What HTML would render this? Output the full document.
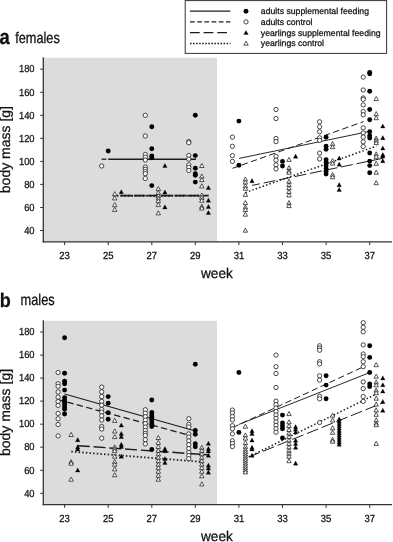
<!DOCTYPE html>
<html><head><meta charset="utf-8"><title>body mass</title>
<style>html,body{margin:0;padding:0;background:#fff}svg{display:block;will-change:transform}text{font-family:"Liberation Sans",sans-serif;stroke:#111;stroke-width:0.25px;text-rendering:geometricPrecision}</style>
</head><body>
<svg width="393" height="542" viewBox="0 0 393 542" font-family="Liberation Sans, sans-serif" fill="#111">
<rect width="393" height="542" fill="#fff"/>
<rect x="44" y="57.8" width="173" height="184.1" fill="#dcdcdc"/>
<line x1="101.6" y1="159.2" x2="106.4" y2="159.2" stroke="#1c1c1c" stroke-width="1.3" stroke-dasharray="6.4 3.3"/>
<line x1="108.2" y1="159.2" x2="196.0" y2="159.2" stroke="#1c1c1c" stroke-width="1.35" />
<line x1="120.4" y1="195.7" x2="208.7" y2="195.7" stroke="#1c1c1c" stroke-width="1.8" stroke-dasharray="11.6 1.9"/>
<line x1="113.3" y1="195.8" x2="202.4" y2="195.8" stroke="#1c1c1c" stroke-width="1.9" stroke-dasharray="1.5 2.15"/>
<line x1="239.1" y1="158.4" x2="369.9" y2="131.3" stroke="#1c1c1c" stroke-width="0.95" />
<line x1="232.6" y1="168.3" x2="363.6" y2="121.6" stroke="#1c1c1c" stroke-width="1.0" stroke-dasharray="6.4 3.3"/>
<line x1="252.1" y1="185.4" x2="383.2" y2="158.2" stroke="#1c1c1c" stroke-width="1.0" stroke-dasharray="12 3.8" stroke-dashoffset="4"/>
<line x1="245.4" y1="192.6" x2="376.4" y2="146.1" stroke="#1c1c1c" stroke-width="1.5" stroke-dasharray="1.5 2.15"/>
<circle cx="101.7" cy="166.0" r="2.15" fill="#fff" stroke="#1c1c1c" stroke-width="0.8"/>
<circle cx="108.2" cy="151.0" r="2.45" fill="#000"/>
<polygon points="112.5,195.7 116.9,195.7 114.7,191.6" fill="#fff" stroke="#1c1c1c" stroke-width="0.75"/>
<polygon points="112.5,199.9 116.9,199.9 114.7,195.8" fill="#fff" stroke="#1c1c1c" stroke-width="0.75"/>
<polygon points="112.5,206.7 116.9,206.7 114.7,202.6" fill="#fff" stroke="#1c1c1c" stroke-width="0.75"/>
<polygon points="112.5,211.4 116.9,211.4 114.7,207.3" fill="#fff" stroke="#1c1c1c" stroke-width="0.75"/>
<polygon points="119.1,193.8 123.5,193.8 121.3,189.7" fill="#000" stroke="#000" stroke-width="0.3"/>
<circle cx="145.3" cy="115.3" r="2.15" fill="#fff" stroke="#1c1c1c" stroke-width="0.8"/>
<circle cx="145.3" cy="136.0" r="2.15" fill="#fff" stroke="#1c1c1c" stroke-width="0.8"/>
<circle cx="145.3" cy="154.5" r="2.15" fill="#fff" stroke="#1c1c1c" stroke-width="0.8"/>
<circle cx="145.3" cy="157.2" r="2.15" fill="#fff" stroke="#1c1c1c" stroke-width="0.8"/>
<circle cx="145.3" cy="160.0" r="2.15" fill="#fff" stroke="#1c1c1c" stroke-width="0.8"/>
<circle cx="145.3" cy="167.1" r="2.15" fill="#fff" stroke="#1c1c1c" stroke-width="0.8"/>
<circle cx="145.3" cy="169.4" r="2.15" fill="#fff" stroke="#1c1c1c" stroke-width="0.8"/>
<circle cx="145.3" cy="171.7" r="2.15" fill="#fff" stroke="#1c1c1c" stroke-width="0.8"/>
<circle cx="145.3" cy="173.7" r="2.15" fill="#fff" stroke="#1c1c1c" stroke-width="0.8"/>
<circle cx="145.3" cy="178.5" r="2.15" fill="#fff" stroke="#1c1c1c" stroke-width="0.8"/>
<circle cx="151.8" cy="126.8" r="2.45" fill="#000"/>
<circle cx="151.8" cy="148.7" r="2.45" fill="#000"/>
<circle cx="151.8" cy="155.9" r="2.45" fill="#000"/>
<circle cx="151.8" cy="157.8" r="2.45" fill="#000"/>
<circle cx="151.8" cy="185.6" r="2.45" fill="#000"/>
<polygon points="156.1,190.7 160.5,190.7 158.3,186.6" fill="#fff" stroke="#1c1c1c" stroke-width="0.75"/>
<polygon points="156.1,194.5 160.5,194.5 158.3,190.4" fill="#fff" stroke="#1c1c1c" stroke-width="0.75"/>
<polygon points="156.1,197.7 160.5,197.7 158.3,193.6" fill="#fff" stroke="#1c1c1c" stroke-width="0.75"/>
<polygon points="156.1,200.1 160.5,200.1 158.3,196.0" fill="#fff" stroke="#1c1c1c" stroke-width="0.75"/>
<polygon points="156.1,202.8 160.5,202.8 158.3,198.7" fill="#fff" stroke="#1c1c1c" stroke-width="0.75"/>
<polygon points="156.1,206.6 160.5,206.6 158.3,202.5" fill="#fff" stroke="#1c1c1c" stroke-width="0.75"/>
<polygon points="156.1,214.9 160.5,214.9 158.3,210.8" fill="#fff" stroke="#1c1c1c" stroke-width="0.75"/>
<polygon points="162.7,167.5 167.1,167.5 164.9,163.4" fill="#000" stroke="#000" stroke-width="0.3"/>
<polygon points="162.7,194.1 167.1,194.1 164.9,190.0" fill="#000" stroke="#000" stroke-width="0.3"/>
<polygon points="162.7,208.9 167.1,208.9 164.9,204.8" fill="#000" stroke="#000" stroke-width="0.3"/>
<circle cx="188.8" cy="141.6" r="2.15" fill="#fff" stroke="#1c1c1c" stroke-width="0.8"/>
<circle cx="188.8" cy="142.7" r="2.15" fill="#fff" stroke="#1c1c1c" stroke-width="0.8"/>
<circle cx="188.8" cy="155.5" r="2.15" fill="#fff" stroke="#1c1c1c" stroke-width="0.8"/>
<circle cx="188.8" cy="159.1" r="2.15" fill="#fff" stroke="#1c1c1c" stroke-width="0.8"/>
<circle cx="188.8" cy="164.8" r="2.15" fill="#fff" stroke="#1c1c1c" stroke-width="0.8"/>
<circle cx="188.8" cy="167.4" r="2.15" fill="#fff" stroke="#1c1c1c" stroke-width="0.8"/>
<circle cx="188.8" cy="170.5" r="2.15" fill="#fff" stroke="#1c1c1c" stroke-width="0.8"/>
<circle cx="195.3" cy="115.3" r="2.45" fill="#000"/>
<circle cx="195.3" cy="155.6" r="2.45" fill="#000"/>
<circle cx="195.3" cy="168.3" r="2.45" fill="#000"/>
<circle cx="195.3" cy="173.7" r="2.45" fill="#000"/>
<circle cx="195.3" cy="175.2" r="2.45" fill="#000"/>
<circle cx="195.3" cy="182.1" r="2.45" fill="#000"/>
<polygon points="199.6,167.5 204.0,167.5 201.8,163.4" fill="#fff" stroke="#1c1c1c" stroke-width="0.75"/>
<polygon points="199.6,178.1 204.0,178.1 201.8,174.0" fill="#fff" stroke="#1c1c1c" stroke-width="0.75"/>
<polygon points="199.6,181.6 204.0,181.6 201.8,177.5" fill="#fff" stroke="#1c1c1c" stroke-width="0.75"/>
<polygon points="199.6,187.9 204.0,187.9 201.8,183.8" fill="#fff" stroke="#1c1c1c" stroke-width="0.75"/>
<polygon points="199.6,197.1 204.0,197.1 201.8,193.0" fill="#fff" stroke="#1c1c1c" stroke-width="0.75"/>
<polygon points="199.6,199.4 204.0,199.4 201.8,195.3" fill="#fff" stroke="#1c1c1c" stroke-width="0.75"/>
<polygon points="199.6,202.2 204.0,202.2 201.8,198.1" fill="#fff" stroke="#1c1c1c" stroke-width="0.75"/>
<polygon points="199.6,208.3 204.0,208.3 201.8,204.2" fill="#fff" stroke="#1c1c1c" stroke-width="0.75"/>
<polygon points="199.6,210.0 204.0,210.0 201.8,205.9" fill="#fff" stroke="#1c1c1c" stroke-width="0.75"/>
<polygon points="206.2,189.6 210.6,189.6 208.4,185.5" fill="#000" stroke="#000" stroke-width="0.3"/>
<polygon points="206.2,202.2 210.6,202.2 208.4,198.1" fill="#000" stroke="#000" stroke-width="0.3"/>
<polygon points="206.2,208.5 210.6,208.5 208.4,204.4" fill="#000" stroke="#000" stroke-width="0.3"/>
<polygon points="206.2,214.5 210.6,214.5 208.4,210.4" fill="#000" stroke="#000" stroke-width="0.3"/>
<circle cx="232.4" cy="137.1" r="2.15" fill="#fff" stroke="#1c1c1c" stroke-width="0.8"/>
<circle cx="232.4" cy="146.3" r="2.15" fill="#fff" stroke="#1c1c1c" stroke-width="0.8"/>
<circle cx="232.4" cy="155.6" r="2.15" fill="#fff" stroke="#1c1c1c" stroke-width="0.8"/>
<circle cx="232.4" cy="161.4" r="2.15" fill="#fff" stroke="#1c1c1c" stroke-width="0.8"/>
<circle cx="238.9" cy="121.1" r="2.45" fill="#000"/>
<circle cx="238.9" cy="165.3" r="2.45" fill="#000"/>
<polygon points="243.2,181.1 247.6,181.1 245.4,177.0" fill="#fff" stroke="#1c1c1c" stroke-width="0.75"/>
<polygon points="243.2,184.1 247.6,184.1 245.4,180.0" fill="#fff" stroke="#1c1c1c" stroke-width="0.75"/>
<polygon points="243.2,187.7 247.6,187.7 245.4,183.6" fill="#fff" stroke="#1c1c1c" stroke-width="0.75"/>
<polygon points="243.2,190.3 247.6,190.3 245.4,186.2" fill="#fff" stroke="#1c1c1c" stroke-width="0.75"/>
<polygon points="243.2,196.4 247.6,196.4 245.4,192.3" fill="#fff" stroke="#1c1c1c" stroke-width="0.75"/>
<polygon points="243.2,204.6 247.6,204.6 245.4,200.5" fill="#fff" stroke="#1c1c1c" stroke-width="0.75"/>
<polygon points="243.2,209.0 247.6,209.0 245.4,204.9" fill="#fff" stroke="#1c1c1c" stroke-width="0.75"/>
<polygon points="243.2,211.5 247.6,211.5 245.4,207.4" fill="#fff" stroke="#1c1c1c" stroke-width="0.75"/>
<polygon points="243.2,216.2 247.6,216.2 245.4,212.1" fill="#fff" stroke="#1c1c1c" stroke-width="0.75"/>
<polygon points="243.2,232.2 247.6,232.2 245.4,228.1" fill="#fff" stroke="#1c1c1c" stroke-width="0.75"/>
<polygon points="249.8,182.7 254.2,182.7 252.0,178.6" fill="#000" stroke="#000" stroke-width="0.3"/>
<circle cx="276.0" cy="109.5" r="2.15" fill="#fff" stroke="#1c1c1c" stroke-width="0.8"/>
<circle cx="276.0" cy="118.6" r="2.15" fill="#fff" stroke="#1c1c1c" stroke-width="0.8"/>
<circle cx="276.0" cy="138.5" r="2.15" fill="#fff" stroke="#1c1c1c" stroke-width="0.8"/>
<circle cx="276.0" cy="141.6" r="2.15" fill="#fff" stroke="#1c1c1c" stroke-width="0.8"/>
<circle cx="276.0" cy="156.4" r="2.15" fill="#fff" stroke="#1c1c1c" stroke-width="0.8"/>
<circle cx="276.0" cy="160.2" r="2.15" fill="#fff" stroke="#1c1c1c" stroke-width="0.8"/>
<circle cx="276.0" cy="164.8" r="2.15" fill="#fff" stroke="#1c1c1c" stroke-width="0.8"/>
<circle cx="276.0" cy="168.9" r="2.15" fill="#fff" stroke="#1c1c1c" stroke-width="0.8"/>
<circle cx="282.5" cy="161.4" r="2.45" fill="#000"/>
<circle cx="282.5" cy="166.0" r="2.45" fill="#000"/>
<polygon points="286.8,161.4 291.2,161.4 289.0,157.3" fill="#fff" stroke="#1c1c1c" stroke-width="0.75"/>
<polygon points="286.8,169.6 291.2,169.6 289.0,165.5" fill="#fff" stroke="#1c1c1c" stroke-width="0.75"/>
<polygon points="286.8,172.7 291.2,172.7 289.0,168.6" fill="#fff" stroke="#1c1c1c" stroke-width="0.75"/>
<polygon points="286.8,174.2 291.2,174.2 289.0,170.1" fill="#fff" stroke="#1c1c1c" stroke-width="0.75"/>
<polygon points="286.8,183.3 291.2,183.3 289.0,179.2" fill="#fff" stroke="#1c1c1c" stroke-width="0.75"/>
<polygon points="286.8,186.7 291.2,186.7 289.0,182.6" fill="#fff" stroke="#1c1c1c" stroke-width="0.75"/>
<polygon points="286.8,189.9 291.2,189.9 289.0,185.8" fill="#fff" stroke="#1c1c1c" stroke-width="0.75"/>
<polygon points="286.8,193.5 291.2,193.5 289.0,189.4" fill="#fff" stroke="#1c1c1c" stroke-width="0.75"/>
<polygon points="286.8,197.0 291.2,197.0 289.0,192.9" fill="#fff" stroke="#1c1c1c" stroke-width="0.75"/>
<polygon points="286.8,204.6 291.2,204.6 289.0,200.5" fill="#fff" stroke="#1c1c1c" stroke-width="0.75"/>
<polygon points="286.8,207.6 291.2,207.6 289.0,203.5" fill="#fff" stroke="#1c1c1c" stroke-width="0.75"/>
<polygon points="293.4,158.2 297.8,158.2 295.6,154.1" fill="#000" stroke="#000" stroke-width="0.3"/>
<circle cx="319.6" cy="121.8" r="2.15" fill="#fff" stroke="#1c1c1c" stroke-width="0.8"/>
<circle cx="319.6" cy="126.8" r="2.15" fill="#fff" stroke="#1c1c1c" stroke-width="0.8"/>
<circle cx="319.6" cy="131.7" r="2.15" fill="#fff" stroke="#1c1c1c" stroke-width="0.8"/>
<circle cx="319.6" cy="137.8" r="2.15" fill="#fff" stroke="#1c1c1c" stroke-width="0.8"/>
<circle cx="319.6" cy="140.4" r="2.15" fill="#fff" stroke="#1c1c1c" stroke-width="0.8"/>
<circle cx="319.6" cy="153.2" r="2.15" fill="#fff" stroke="#1c1c1c" stroke-width="0.8"/>
<circle cx="319.6" cy="159.0" r="2.15" fill="#fff" stroke="#1c1c1c" stroke-width="0.8"/>
<circle cx="326.1" cy="137.2" r="2.45" fill="#000"/>
<circle cx="326.1" cy="146.2" r="2.45" fill="#000"/>
<circle cx="326.1" cy="149.3" r="2.45" fill="#000"/>
<circle cx="326.1" cy="159.8" r="2.45" fill="#000"/>
<circle cx="326.1" cy="162.5" r="2.45" fill="#000"/>
<circle cx="326.1" cy="165.5" r="2.45" fill="#000"/>
<circle cx="326.1" cy="168.5" r="2.45" fill="#000"/>
<circle cx="326.1" cy="171.3" r="2.45" fill="#000"/>
<circle cx="326.1" cy="174.1" r="2.45" fill="#000"/>
<polygon points="330.4,145.6 334.8,145.6 332.6,141.5" fill="#fff" stroke="#1c1c1c" stroke-width="0.75"/>
<polygon points="330.4,148.7 334.8,148.7 332.6,144.6" fill="#fff" stroke="#1c1c1c" stroke-width="0.75"/>
<polygon points="330.4,162.6 334.8,162.6 332.6,158.5" fill="#fff" stroke="#1c1c1c" stroke-width="0.75"/>
<polygon points="330.4,165.1 334.8,165.1 332.6,161.0" fill="#fff" stroke="#1c1c1c" stroke-width="0.75"/>
<polygon points="330.4,176.5 334.8,176.5 332.6,172.4" fill="#fff" stroke="#1c1c1c" stroke-width="0.75"/>
<polygon points="330.4,178.8 334.8,178.8 332.6,174.7" fill="#fff" stroke="#1c1c1c" stroke-width="0.75"/>
<polygon points="337.0,160.1 341.4,160.1 339.2,156.0" fill="#000" stroke="#000" stroke-width="0.3"/>
<polygon points="337.0,166.2 341.4,166.2 339.2,162.1" fill="#000" stroke="#000" stroke-width="0.3"/>
<polygon points="337.0,186.7 341.4,186.7 339.2,182.6" fill="#000" stroke="#000" stroke-width="0.3"/>
<polygon points="337.0,191.5 341.4,191.5 339.2,187.4" fill="#000" stroke="#000" stroke-width="0.3"/>
<circle cx="363.2" cy="77.1" r="2.15" fill="#fff" stroke="#1c1c1c" stroke-width="0.8"/>
<circle cx="363.2" cy="90.0" r="2.15" fill="#fff" stroke="#1c1c1c" stroke-width="0.8"/>
<circle cx="363.2" cy="98.0" r="2.15" fill="#fff" stroke="#1c1c1c" stroke-width="0.8"/>
<circle cx="363.2" cy="99.4" r="2.15" fill="#fff" stroke="#1c1c1c" stroke-width="0.8"/>
<circle cx="363.2" cy="104.9" r="2.15" fill="#fff" stroke="#1c1c1c" stroke-width="0.8"/>
<circle cx="363.2" cy="111.5" r="2.15" fill="#fff" stroke="#1c1c1c" stroke-width="0.8"/>
<circle cx="363.2" cy="114.8" r="2.15" fill="#fff" stroke="#1c1c1c" stroke-width="0.8"/>
<circle cx="363.2" cy="127.9" r="2.15" fill="#fff" stroke="#1c1c1c" stroke-width="0.8"/>
<circle cx="363.2" cy="133.0" r="2.15" fill="#fff" stroke="#1c1c1c" stroke-width="0.8"/>
<circle cx="363.2" cy="137.1" r="2.15" fill="#fff" stroke="#1c1c1c" stroke-width="0.8"/>
<circle cx="363.2" cy="141.8" r="2.15" fill="#fff" stroke="#1c1c1c" stroke-width="0.8"/>
<circle cx="363.2" cy="146.5" r="2.15" fill="#fff" stroke="#1c1c1c" stroke-width="0.8"/>
<circle cx="369.7" cy="72.4" r="2.45" fill="#000"/>
<circle cx="369.7" cy="73.8" r="2.45" fill="#000"/>
<circle cx="369.7" cy="91.3" r="2.45" fill="#000"/>
<circle cx="369.7" cy="109.5" r="2.45" fill="#000"/>
<circle cx="369.7" cy="119.8" r="2.45" fill="#000"/>
<circle cx="369.7" cy="131.7" r="2.45" fill="#000"/>
<circle cx="369.7" cy="135.7" r="2.45" fill="#000"/>
<circle cx="369.7" cy="138.0" r="2.45" fill="#000"/>
<circle cx="369.7" cy="153.0" r="2.45" fill="#000"/>
<circle cx="369.7" cy="161.1" r="2.45" fill="#000"/>
<circle cx="369.7" cy="165.6" r="2.45" fill="#000"/>
<circle cx="369.7" cy="172.8" r="2.45" fill="#000"/>
<polygon points="374.0,100.6 378.4,100.6 376.2,96.5" fill="#fff" stroke="#1c1c1c" stroke-width="0.75"/>
<polygon points="374.0,115.7 378.4,115.7 376.2,111.6" fill="#fff" stroke="#1c1c1c" stroke-width="0.75"/>
<polygon points="374.0,119.7 378.4,119.7 376.2,115.6" fill="#fff" stroke="#1c1c1c" stroke-width="0.75"/>
<polygon points="374.0,140.1 378.4,140.1 376.2,136.0" fill="#fff" stroke="#1c1c1c" stroke-width="0.75"/>
<polygon points="374.0,142.3 378.4,142.3 376.2,138.2" fill="#fff" stroke="#1c1c1c" stroke-width="0.75"/>
<polygon points="374.0,144.6 378.4,144.6 376.2,140.5" fill="#fff" stroke="#1c1c1c" stroke-width="0.75"/>
<polygon points="374.0,155.9 378.4,155.9 376.2,151.8" fill="#fff" stroke="#1c1c1c" stroke-width="0.75"/>
<polygon points="374.0,158.3 378.4,158.3 376.2,154.2" fill="#fff" stroke="#1c1c1c" stroke-width="0.75"/>
<polygon points="374.0,165.3 378.4,165.3 376.2,161.2" fill="#fff" stroke="#1c1c1c" stroke-width="0.75"/>
<polygon points="374.0,174.2 378.4,174.2 376.2,170.1" fill="#fff" stroke="#1c1c1c" stroke-width="0.75"/>
<polygon points="374.0,184.7 378.4,184.7 376.2,180.6" fill="#fff" stroke="#1c1c1c" stroke-width="0.75"/>
<polygon points="380.6,128.0 385.0,128.0 382.8,123.9" fill="#000" stroke="#000" stroke-width="0.3"/>
<polygon points="380.6,139.7 385.0,139.7 382.8,135.6" fill="#000" stroke="#000" stroke-width="0.3"/>
<polygon points="380.6,150.0 385.0,150.0 382.8,145.9" fill="#000" stroke="#000" stroke-width="0.3"/>
<polygon points="380.6,156.6 385.0,156.6 382.8,152.5" fill="#000" stroke="#000" stroke-width="0.3"/>
<polygon points="380.6,157.9 385.0,157.9 382.8,153.8" fill="#000" stroke="#000" stroke-width="0.3"/>
<polygon points="380.6,162.7 385.0,162.7 382.8,158.6" fill="#000" stroke="#000" stroke-width="0.3"/>
<line x1="43.3" y1="57.3" x2="43.3" y2="242.5" stroke="#333" stroke-width="1.3"/>
<line x1="42.7" y1="241.9" x2="392" y2="241.9" stroke="#333" stroke-width="1.3"/>
<line x1="40.2" y1="230.5" x2="43.3" y2="230.5" stroke="#333" stroke-width="1"/>
<text transform="translate(34.6 233.7) scale(0.94 1.02)" text-anchor="end" font-size="10">40</text>
<line x1="40.2" y1="207.5" x2="43.3" y2="207.5" stroke="#333" stroke-width="1"/>
<text transform="translate(34.6 210.7) scale(0.94 1.02)" text-anchor="end" font-size="10">60</text>
<line x1="40.2" y1="184.4" x2="43.3" y2="184.4" stroke="#333" stroke-width="1"/>
<text transform="translate(34.6 187.6) scale(0.94 1.02)" text-anchor="end" font-size="10">80</text>
<line x1="40.2" y1="161.4" x2="43.3" y2="161.4" stroke="#333" stroke-width="1"/>
<text transform="translate(34.6 164.6) scale(0.94 1.02)" text-anchor="end" font-size="10">100</text>
<line x1="40.2" y1="138.3" x2="43.3" y2="138.3" stroke="#333" stroke-width="1"/>
<text transform="translate(34.6 141.5) scale(0.94 1.02)" text-anchor="end" font-size="10">120</text>
<line x1="40.2" y1="115.3" x2="43.3" y2="115.3" stroke="#333" stroke-width="1"/>
<text transform="translate(34.6 118.5) scale(0.94 1.02)" text-anchor="end" font-size="10">140</text>
<line x1="40.2" y1="92.3" x2="43.3" y2="92.3" stroke="#333" stroke-width="1"/>
<text transform="translate(34.6 95.5) scale(0.94 1.02)" text-anchor="end" font-size="10">160</text>
<line x1="40.2" y1="69.2" x2="43.3" y2="69.2" stroke="#333" stroke-width="1"/>
<text transform="translate(34.6 72.4) scale(0.94 1.02)" text-anchor="end" font-size="10">180</text>
<line x1="64.6" y1="241.9" x2="64.6" y2="245.1" stroke="#333" stroke-width="1"/>
<text transform="translate(64.6 258.9) scale(0.94 1.02)" text-anchor="middle" font-size="10.1">23</text>
<line x1="108.2" y1="241.9" x2="108.2" y2="245.1" stroke="#333" stroke-width="1"/>
<text transform="translate(108.2 258.9) scale(0.94 1.02)" text-anchor="middle" font-size="10.1">25</text>
<line x1="151.8" y1="241.9" x2="151.8" y2="245.1" stroke="#333" stroke-width="1"/>
<text transform="translate(151.8 258.9) scale(0.94 1.02)" text-anchor="middle" font-size="10.1">27</text>
<line x1="195.3" y1="241.9" x2="195.3" y2="245.1" stroke="#333" stroke-width="1"/>
<text transform="translate(195.3 258.9) scale(0.94 1.02)" text-anchor="middle" font-size="10.1">29</text>
<line x1="238.9" y1="241.9" x2="238.9" y2="245.1" stroke="#333" stroke-width="1"/>
<text transform="translate(238.9 258.9) scale(0.94 1.02)" text-anchor="middle" font-size="10.1">31</text>
<line x1="282.5" y1="241.9" x2="282.5" y2="245.1" stroke="#333" stroke-width="1"/>
<text transform="translate(282.5 258.9) scale(0.94 1.02)" text-anchor="middle" font-size="10.1">33</text>
<line x1="326.1" y1="241.9" x2="326.1" y2="245.1" stroke="#333" stroke-width="1"/>
<text transform="translate(326.1 258.9) scale(0.94 1.02)" text-anchor="middle" font-size="10.1">35</text>
<line x1="369.7" y1="241.9" x2="369.7" y2="245.1" stroke="#333" stroke-width="1"/>
<text transform="translate(369.7 258.9) scale(0.94 1.02)" text-anchor="middle" font-size="10.1">37</text>
<text transform="translate(216.9 277.8) scale(1.015 1.045)" text-anchor="middle" font-size="13.4" stroke-width="0.38">week</text>
<text transform="translate(10.4 149.6) rotate(-90)" text-anchor="middle" font-size="14" stroke-width="0.38">body mass [g]</text>
<rect x="44" y="320.8" width="173" height="183.8" fill="#dcdcdc"/>
<line x1="64.6" y1="394.0" x2="195.4" y2="431.0" stroke="#1c1c1c" stroke-width="1.15" />
<line x1="58.0" y1="399.6" x2="189.0" y2="435.2" stroke="#1c1c1c" stroke-width="1.25" stroke-dasharray="6.4 3.3"/>
<line x1="77.8" y1="445.7" x2="208.8" y2="454.9" stroke="#1c1c1c" stroke-width="1.45" stroke-dasharray="12 3.8"/>
<line x1="71.3" y1="451.6" x2="202.4" y2="461.9" stroke="#1c1c1c" stroke-width="1.75" stroke-dasharray="1.5 2.15"/>
<line x1="239.0" y1="424.4" x2="369.9" y2="372.5" stroke="#1c1c1c" stroke-width="0.95" />
<line x1="232.6" y1="427.6" x2="363.6" y2="366.7" stroke="#1c1c1c" stroke-width="1.0" stroke-dasharray="6.4 3.3"/>
<line x1="252.1" y1="455.7" x2="383.2" y2="402.7" stroke="#1c1c1c" stroke-width="1.0" stroke-dasharray="12 3.8" stroke-dashoffset="4"/>
<line x1="245.4" y1="458.5" x2="376.4" y2="394.0" stroke="#1c1c1c" stroke-width="1.5" stroke-dasharray="1.5 2.15"/>
<circle cx="58.1" cy="372.5" r="2.15" fill="#fff" stroke="#1c1c1c" stroke-width="0.8"/>
<circle cx="58.1" cy="383.7" r="2.15" fill="#fff" stroke="#1c1c1c" stroke-width="0.8"/>
<circle cx="58.1" cy="386.3" r="2.15" fill="#fff" stroke="#1c1c1c" stroke-width="0.8"/>
<circle cx="58.1" cy="392.0" r="2.15" fill="#fff" stroke="#1c1c1c" stroke-width="0.8"/>
<circle cx="58.1" cy="397.1" r="2.15" fill="#fff" stroke="#1c1c1c" stroke-width="0.8"/>
<circle cx="58.1" cy="401.5" r="2.15" fill="#fff" stroke="#1c1c1c" stroke-width="0.8"/>
<circle cx="58.1" cy="405.4" r="2.15" fill="#fff" stroke="#1c1c1c" stroke-width="0.8"/>
<circle cx="58.1" cy="413.4" r="2.15" fill="#fff" stroke="#1c1c1c" stroke-width="0.8"/>
<circle cx="58.1" cy="418.8" r="2.15" fill="#fff" stroke="#1c1c1c" stroke-width="0.8"/>
<circle cx="58.1" cy="424.5" r="2.15" fill="#fff" stroke="#1c1c1c" stroke-width="0.8"/>
<circle cx="58.1" cy="435.9" r="2.15" fill="#fff" stroke="#1c1c1c" stroke-width="0.8"/>
<circle cx="64.6" cy="337.8" r="2.45" fill="#000"/>
<circle cx="64.6" cy="373.3" r="2.45" fill="#000"/>
<circle cx="64.6" cy="381.2" r="2.45" fill="#000"/>
<circle cx="64.6" cy="383.7" r="2.45" fill="#000"/>
<circle cx="64.6" cy="390.1" r="2.45" fill="#000"/>
<circle cx="64.6" cy="397.7" r="2.45" fill="#000"/>
<circle cx="64.6" cy="400.0" r="2.45" fill="#000"/>
<circle cx="64.6" cy="402.3" r="2.45" fill="#000"/>
<circle cx="64.6" cy="404.6" r="2.45" fill="#000"/>
<circle cx="64.6" cy="406.9" r="2.45" fill="#000"/>
<circle cx="64.6" cy="409.2" r="2.45" fill="#000"/>
<circle cx="64.6" cy="414.0" r="2.45" fill="#000"/>
<polygon points="68.9,436.5 73.3,436.5 71.1,432.4" fill="#fff" stroke="#1c1c1c" stroke-width="0.75"/>
<polygon points="68.9,463.7 73.3,463.7 71.1,459.6" fill="#fff" stroke="#1c1c1c" stroke-width="0.75"/>
<polygon points="68.9,465.2 73.3,465.2 71.1,461.1" fill="#fff" stroke="#1c1c1c" stroke-width="0.75"/>
<polygon points="68.9,481.2 73.3,481.2 71.1,477.1" fill="#fff" stroke="#1c1c1c" stroke-width="0.75"/>
<polygon points="75.5,441.7 79.9,441.7 77.7,437.6" fill="#000" stroke="#000" stroke-width="0.3"/>
<polygon points="75.5,448.9 79.9,448.9 77.7,444.8" fill="#000" stroke="#000" stroke-width="0.3"/>
<polygon points="75.5,451.0 79.9,451.0 77.7,446.9" fill="#000" stroke="#000" stroke-width="0.3"/>
<polygon points="75.5,472.0 79.9,472.0 77.7,467.9" fill="#000" stroke="#000" stroke-width="0.3"/>
<circle cx="101.7" cy="387.1" r="2.15" fill="#fff" stroke="#1c1c1c" stroke-width="0.8"/>
<circle cx="101.7" cy="391.8" r="2.15" fill="#fff" stroke="#1c1c1c" stroke-width="0.8"/>
<circle cx="101.7" cy="396.6" r="2.15" fill="#fff" stroke="#1c1c1c" stroke-width="0.8"/>
<circle cx="101.7" cy="401.4" r="2.15" fill="#fff" stroke="#1c1c1c" stroke-width="0.8"/>
<circle cx="101.7" cy="405.2" r="2.15" fill="#fff" stroke="#1c1c1c" stroke-width="0.8"/>
<circle cx="101.7" cy="409.5" r="2.15" fill="#fff" stroke="#1c1c1c" stroke-width="0.8"/>
<circle cx="101.7" cy="412.1" r="2.15" fill="#fff" stroke="#1c1c1c" stroke-width="0.8"/>
<circle cx="101.7" cy="415.9" r="2.15" fill="#fff" stroke="#1c1c1c" stroke-width="0.8"/>
<circle cx="101.7" cy="420.0" r="2.15" fill="#fff" stroke="#1c1c1c" stroke-width="0.8"/>
<circle cx="101.7" cy="426.5" r="2.15" fill="#fff" stroke="#1c1c1c" stroke-width="0.8"/>
<circle cx="101.7" cy="429.0" r="2.15" fill="#fff" stroke="#1c1c1c" stroke-width="0.8"/>
<circle cx="101.7" cy="438.2" r="2.15" fill="#fff" stroke="#1c1c1c" stroke-width="0.8"/>
<circle cx="108.2" cy="396.6" r="2.45" fill="#000"/>
<circle cx="108.2" cy="403.3" r="2.45" fill="#000"/>
<circle cx="108.2" cy="412.7" r="2.45" fill="#000"/>
<circle cx="108.2" cy="419.3" r="2.45" fill="#000"/>
<polygon points="112.5,422.4 116.9,422.4 114.7,418.3" fill="#fff" stroke="#1c1c1c" stroke-width="0.75"/>
<polygon points="112.5,433.0 116.9,433.0 114.7,428.9" fill="#fff" stroke="#1c1c1c" stroke-width="0.75"/>
<polygon points="112.5,438.6 116.9,438.6 114.7,434.5" fill="#fff" stroke="#1c1c1c" stroke-width="0.75"/>
<polygon points="112.5,448.9 116.9,448.9 114.7,444.8" fill="#fff" stroke="#1c1c1c" stroke-width="0.75"/>
<polygon points="112.5,450.7 116.9,450.7 114.7,446.6" fill="#fff" stroke="#1c1c1c" stroke-width="0.75"/>
<polygon points="112.5,452.7 116.9,452.7 114.7,448.6" fill="#fff" stroke="#1c1c1c" stroke-width="0.75"/>
<polygon points="112.5,458.2 116.9,458.2 114.7,454.1" fill="#fff" stroke="#1c1c1c" stroke-width="0.75"/>
<polygon points="112.5,463.5 116.9,463.5 114.7,459.4" fill="#fff" stroke="#1c1c1c" stroke-width="0.75"/>
<polygon points="112.5,466.2 116.9,466.2 114.7,462.1" fill="#fff" stroke="#1c1c1c" stroke-width="0.75"/>
<polygon points="112.5,470.9 116.9,470.9 114.7,466.8" fill="#fff" stroke="#1c1c1c" stroke-width="0.75"/>
<polygon points="112.5,476.8 116.9,476.8 114.7,472.7" fill="#fff" stroke="#1c1c1c" stroke-width="0.75"/>
<polygon points="119.1,427.0 123.5,427.0 121.3,422.9" fill="#000" stroke="#000" stroke-width="0.3"/>
<polygon points="119.1,435.5 123.5,435.5 121.3,431.4" fill="#000" stroke="#000" stroke-width="0.3"/>
<polygon points="119.1,438.6 123.5,438.6 121.3,434.5" fill="#000" stroke="#000" stroke-width="0.3"/>
<polygon points="119.1,446.3 123.5,446.3 121.3,442.2" fill="#000" stroke="#000" stroke-width="0.3"/>
<polygon points="119.1,448.4 123.5,448.4 121.3,444.3" fill="#000" stroke="#000" stroke-width="0.3"/>
<polygon points="119.1,458.2 123.5,458.2 121.3,454.1" fill="#000" stroke="#000" stroke-width="0.3"/>
<circle cx="145.3" cy="409.8" r="2.15" fill="#fff" stroke="#1c1c1c" stroke-width="0.8"/>
<circle cx="145.3" cy="413.2" r="2.15" fill="#fff" stroke="#1c1c1c" stroke-width="0.8"/>
<circle cx="145.3" cy="416.7" r="2.15" fill="#fff" stroke="#1c1c1c" stroke-width="0.8"/>
<circle cx="145.3" cy="420.1" r="2.15" fill="#fff" stroke="#1c1c1c" stroke-width="0.8"/>
<circle cx="145.3" cy="423.6" r="2.15" fill="#fff" stroke="#1c1c1c" stroke-width="0.8"/>
<circle cx="145.3" cy="427.1" r="2.15" fill="#fff" stroke="#1c1c1c" stroke-width="0.8"/>
<circle cx="145.3" cy="430.5" r="2.15" fill="#fff" stroke="#1c1c1c" stroke-width="0.8"/>
<circle cx="145.3" cy="433.4" r="2.15" fill="#fff" stroke="#1c1c1c" stroke-width="0.8"/>
<circle cx="145.3" cy="435.4" r="2.15" fill="#fff" stroke="#1c1c1c" stroke-width="0.8"/>
<circle cx="145.3" cy="439.7" r="2.15" fill="#fff" stroke="#1c1c1c" stroke-width="0.8"/>
<circle cx="145.3" cy="443.9" r="2.15" fill="#fff" stroke="#1c1c1c" stroke-width="0.8"/>
<circle cx="151.8" cy="400.0" r="2.45" fill="#000"/>
<circle cx="151.8" cy="412.4" r="2.45" fill="#000"/>
<circle cx="151.8" cy="415.0" r="2.45" fill="#000"/>
<circle cx="151.8" cy="417.3" r="2.45" fill="#000"/>
<circle cx="151.8" cy="419.6" r="2.45" fill="#000"/>
<circle cx="151.8" cy="421.9" r="2.45" fill="#000"/>
<circle cx="151.8" cy="424.2" r="2.45" fill="#000"/>
<circle cx="151.8" cy="426.5" r="2.45" fill="#000"/>
<circle cx="151.8" cy="449.5" r="2.45" fill="#000"/>
<polygon points="156.1,439.5 160.5,439.5 158.3,435.4" fill="#fff" stroke="#1c1c1c" stroke-width="0.75"/>
<polygon points="156.1,444.4 160.5,444.4 158.3,440.3" fill="#fff" stroke="#1c1c1c" stroke-width="0.75"/>
<polygon points="156.1,448.4 160.5,448.4 158.3,444.3" fill="#fff" stroke="#1c1c1c" stroke-width="0.75"/>
<polygon points="156.1,452.4 160.5,452.4 158.3,448.3" fill="#fff" stroke="#1c1c1c" stroke-width="0.75"/>
<polygon points="156.1,455.9 160.5,455.9 158.3,451.8" fill="#fff" stroke="#1c1c1c" stroke-width="0.75"/>
<polygon points="156.1,459.3 160.5,459.3 158.3,455.2" fill="#fff" stroke="#1c1c1c" stroke-width="0.75"/>
<polygon points="156.1,462.8 160.5,462.8 158.3,458.7" fill="#fff" stroke="#1c1c1c" stroke-width="0.75"/>
<polygon points="156.1,466.2 160.5,466.2 158.3,462.1" fill="#fff" stroke="#1c1c1c" stroke-width="0.75"/>
<polygon points="156.1,469.7 160.5,469.7 158.3,465.6" fill="#fff" stroke="#1c1c1c" stroke-width="0.75"/>
<polygon points="156.1,473.2 160.5,473.2 158.3,469.1" fill="#fff" stroke="#1c1c1c" stroke-width="0.75"/>
<polygon points="156.1,477.2 160.5,477.2 158.3,473.1" fill="#fff" stroke="#1c1c1c" stroke-width="0.75"/>
<polygon points="156.1,481.2 160.5,481.2 158.3,477.1" fill="#fff" stroke="#1c1c1c" stroke-width="0.75"/>
<polygon points="162.7,450.7 167.1,450.7 164.9,446.6" fill="#000" stroke="#000" stroke-width="0.3"/>
<polygon points="162.7,452.7 167.1,452.7 164.9,448.6" fill="#000" stroke="#000" stroke-width="0.3"/>
<polygon points="162.7,460.6 167.1,460.6 164.9,456.5" fill="#000" stroke="#000" stroke-width="0.3"/>
<polygon points="162.7,464.4 167.1,464.4 164.9,460.3" fill="#000" stroke="#000" stroke-width="0.3"/>
<circle cx="188.8" cy="418.7" r="2.15" fill="#fff" stroke="#1c1c1c" stroke-width="0.8"/>
<circle cx="188.8" cy="424.4" r="2.15" fill="#fff" stroke="#1c1c1c" stroke-width="0.8"/>
<circle cx="188.8" cy="426.9" r="2.15" fill="#fff" stroke="#1c1c1c" stroke-width="0.8"/>
<circle cx="188.8" cy="433.9" r="2.15" fill="#fff" stroke="#1c1c1c" stroke-width="0.8"/>
<circle cx="188.8" cy="437.1" r="2.15" fill="#fff" stroke="#1c1c1c" stroke-width="0.8"/>
<circle cx="188.8" cy="440.9" r="2.15" fill="#fff" stroke="#1c1c1c" stroke-width="0.8"/>
<circle cx="188.8" cy="444.7" r="2.15" fill="#fff" stroke="#1c1c1c" stroke-width="0.8"/>
<circle cx="188.8" cy="448.6" r="2.15" fill="#fff" stroke="#1c1c1c" stroke-width="0.8"/>
<circle cx="188.8" cy="452.4" r="2.15" fill="#fff" stroke="#1c1c1c" stroke-width="0.8"/>
<circle cx="188.8" cy="455.6" r="2.15" fill="#fff" stroke="#1c1c1c" stroke-width="0.8"/>
<circle cx="188.8" cy="458.7" r="2.15" fill="#fff" stroke="#1c1c1c" stroke-width="0.8"/>
<circle cx="195.3" cy="364.2" r="2.45" fill="#000"/>
<circle cx="195.3" cy="430.4" r="2.45" fill="#000"/>
<circle cx="195.3" cy="434.3" r="2.45" fill="#000"/>
<circle cx="195.3" cy="443.8" r="2.45" fill="#000"/>
<circle cx="195.3" cy="446.8" r="2.45" fill="#000"/>
<polygon points="199.6,449.4 204.0,449.4 201.8,445.3" fill="#fff" stroke="#1c1c1c" stroke-width="0.75"/>
<polygon points="199.6,452.4 204.0,452.4 201.8,448.3" fill="#fff" stroke="#1c1c1c" stroke-width="0.75"/>
<polygon points="199.6,455.9 204.0,455.9 201.8,451.8" fill="#fff" stroke="#1c1c1c" stroke-width="0.75"/>
<polygon points="199.6,459.3 204.0,459.3 201.8,455.2" fill="#fff" stroke="#1c1c1c" stroke-width="0.75"/>
<polygon points="199.6,462.8 204.0,462.8 201.8,458.7" fill="#fff" stroke="#1c1c1c" stroke-width="0.75"/>
<polygon points="199.6,466.2 204.0,466.2 201.8,462.1" fill="#fff" stroke="#1c1c1c" stroke-width="0.75"/>
<polygon points="199.6,469.7 204.0,469.7 201.8,465.6" fill="#fff" stroke="#1c1c1c" stroke-width="0.75"/>
<polygon points="199.6,473.2 204.0,473.2 201.8,469.1" fill="#fff" stroke="#1c1c1c" stroke-width="0.75"/>
<polygon points="199.6,477.8 204.0,477.8 201.8,473.7" fill="#fff" stroke="#1c1c1c" stroke-width="0.75"/>
<polygon points="199.6,485.9 204.0,485.9 201.8,481.8" fill="#fff" stroke="#1c1c1c" stroke-width="0.75"/>
<polygon points="206.2,445.3 210.6,445.3 208.4,441.2" fill="#000" stroke="#000" stroke-width="0.3"/>
<polygon points="206.2,450.6 210.6,450.6 208.4,446.5" fill="#000" stroke="#000" stroke-width="0.3"/>
<polygon points="206.2,452.9 210.6,452.9 208.4,448.8" fill="#000" stroke="#000" stroke-width="0.3"/>
<polygon points="206.2,457.3 210.6,457.3 208.4,453.2" fill="#000" stroke="#000" stroke-width="0.3"/>
<polygon points="206.2,467.2 210.6,467.2 208.4,463.1" fill="#000" stroke="#000" stroke-width="0.3"/>
<polygon points="206.2,470.1 210.6,470.1 208.4,466.0" fill="#000" stroke="#000" stroke-width="0.3"/>
<polygon points="206.2,474.2 210.6,474.2 208.4,470.1" fill="#000" stroke="#000" stroke-width="0.3"/>
<circle cx="232.4" cy="410.1" r="2.15" fill="#fff" stroke="#1c1c1c" stroke-width="0.8"/>
<circle cx="232.4" cy="412.9" r="2.15" fill="#fff" stroke="#1c1c1c" stroke-width="0.8"/>
<circle cx="232.4" cy="416.5" r="2.15" fill="#fff" stroke="#1c1c1c" stroke-width="0.8"/>
<circle cx="232.4" cy="419.9" r="2.15" fill="#fff" stroke="#1c1c1c" stroke-width="0.8"/>
<circle cx="232.4" cy="425.7" r="2.15" fill="#fff" stroke="#1c1c1c" stroke-width="0.8"/>
<circle cx="232.4" cy="428.8" r="2.15" fill="#fff" stroke="#1c1c1c" stroke-width="0.8"/>
<circle cx="232.4" cy="433.9" r="2.15" fill="#fff" stroke="#1c1c1c" stroke-width="0.8"/>
<circle cx="232.4" cy="440.8" r="2.15" fill="#fff" stroke="#1c1c1c" stroke-width="0.8"/>
<circle cx="232.4" cy="443.5" r="2.15" fill="#fff" stroke="#1c1c1c" stroke-width="0.8"/>
<circle cx="232.4" cy="446.6" r="2.15" fill="#fff" stroke="#1c1c1c" stroke-width="0.8"/>
<circle cx="238.9" cy="372.5" r="2.45" fill="#000"/>
<circle cx="238.9" cy="432.4" r="2.45" fill="#000"/>
<polygon points="243.2,428.2 247.6,428.2 245.4,424.1" fill="#fff" stroke="#1c1c1c" stroke-width="0.75"/>
<polygon points="243.2,437.0 247.6,437.0 245.4,432.9" fill="#fff" stroke="#1c1c1c" stroke-width="0.75"/>
<polygon points="243.2,440.1 247.6,440.1 245.4,436.0" fill="#fff" stroke="#1c1c1c" stroke-width="0.75"/>
<polygon points="243.2,444.6 247.6,444.6 245.4,440.5" fill="#fff" stroke="#1c1c1c" stroke-width="0.75"/>
<polygon points="243.2,448.4 247.6,448.4 245.4,444.3" fill="#fff" stroke="#1c1c1c" stroke-width="0.75"/>
<polygon points="243.2,451.3 247.6,451.3 245.4,447.2" fill="#fff" stroke="#1c1c1c" stroke-width="0.75"/>
<polygon points="243.2,453.6 247.6,453.6 245.4,449.5" fill="#fff" stroke="#1c1c1c" stroke-width="0.75"/>
<polygon points="243.2,455.9 247.6,455.9 245.4,451.8" fill="#fff" stroke="#1c1c1c" stroke-width="0.75"/>
<polygon points="243.2,458.2 247.6,458.2 245.4,454.1" fill="#fff" stroke="#1c1c1c" stroke-width="0.75"/>
<polygon points="243.2,460.5 247.6,460.5 245.4,456.4" fill="#fff" stroke="#1c1c1c" stroke-width="0.75"/>
<polygon points="243.2,462.8 247.6,462.8 245.4,458.7" fill="#fff" stroke="#1c1c1c" stroke-width="0.75"/>
<polygon points="243.2,465.1 247.6,465.1 245.4,461.0" fill="#fff" stroke="#1c1c1c" stroke-width="0.75"/>
<polygon points="243.2,467.4 247.6,467.4 245.4,463.3" fill="#fff" stroke="#1c1c1c" stroke-width="0.75"/>
<polygon points="243.2,469.7 247.6,469.7 245.4,465.6" fill="#fff" stroke="#1c1c1c" stroke-width="0.75"/>
<polygon points="243.2,472.0 247.6,472.0 245.4,467.9" fill="#fff" stroke="#1c1c1c" stroke-width="0.75"/>
<polygon points="243.2,473.9 247.6,473.9 245.4,469.8" fill="#fff" stroke="#1c1c1c" stroke-width="0.75"/>
<polygon points="249.8,432.8 254.2,432.8 252.0,428.7" fill="#000" stroke="#000" stroke-width="0.3"/>
<polygon points="249.8,435.5 254.2,435.5 252.0,431.4" fill="#000" stroke="#000" stroke-width="0.3"/>
<polygon points="249.8,442.1 254.2,442.1 252.0,438.0" fill="#000" stroke="#000" stroke-width="0.3"/>
<polygon points="249.8,449.3 254.2,449.3 252.0,445.2" fill="#000" stroke="#000" stroke-width="0.3"/>
<polygon points="249.8,450.9 254.2,450.9 252.0,446.8" fill="#000" stroke="#000" stroke-width="0.3"/>
<polygon points="249.8,457.3 254.2,457.3 252.0,453.2" fill="#000" stroke="#000" stroke-width="0.3"/>
<circle cx="276.0" cy="355.1" r="2.15" fill="#fff" stroke="#1c1c1c" stroke-width="0.8"/>
<circle cx="276.0" cy="366.7" r="2.15" fill="#fff" stroke="#1c1c1c" stroke-width="0.8"/>
<circle cx="276.0" cy="373.5" r="2.15" fill="#fff" stroke="#1c1c1c" stroke-width="0.8"/>
<circle cx="276.0" cy="387.5" r="2.15" fill="#fff" stroke="#1c1c1c" stroke-width="0.8"/>
<circle cx="276.0" cy="401.1" r="2.15" fill="#fff" stroke="#1c1c1c" stroke-width="0.8"/>
<circle cx="276.0" cy="404.6" r="2.15" fill="#fff" stroke="#1c1c1c" stroke-width="0.8"/>
<circle cx="276.0" cy="408.1" r="2.15" fill="#fff" stroke="#1c1c1c" stroke-width="0.8"/>
<circle cx="276.0" cy="411.5" r="2.15" fill="#fff" stroke="#1c1c1c" stroke-width="0.8"/>
<circle cx="276.0" cy="415.0" r="2.15" fill="#fff" stroke="#1c1c1c" stroke-width="0.8"/>
<circle cx="276.0" cy="418.4" r="2.15" fill="#fff" stroke="#1c1c1c" stroke-width="0.8"/>
<circle cx="276.0" cy="421.9" r="2.15" fill="#fff" stroke="#1c1c1c" stroke-width="0.8"/>
<circle cx="276.0" cy="425.3" r="2.15" fill="#fff" stroke="#1c1c1c" stroke-width="0.8"/>
<circle cx="276.0" cy="428.8" r="2.15" fill="#fff" stroke="#1c1c1c" stroke-width="0.8"/>
<circle cx="276.0" cy="432.2" r="2.15" fill="#fff" stroke="#1c1c1c" stroke-width="0.8"/>
<circle cx="282.5" cy="415.1" r="2.45" fill="#000"/>
<circle cx="282.5" cy="423.0" r="2.45" fill="#000"/>
<circle cx="282.5" cy="425.9" r="2.45" fill="#000"/>
<circle cx="282.5" cy="428.8" r="2.45" fill="#000"/>
<circle cx="282.5" cy="438.0" r="2.45" fill="#000"/>
<polygon points="286.8,415.6 291.2,415.6 289.0,411.5" fill="#fff" stroke="#1c1c1c" stroke-width="0.75"/>
<polygon points="286.8,423.9 291.2,423.9 289.0,419.8" fill="#fff" stroke="#1c1c1c" stroke-width="0.75"/>
<polygon points="286.8,427.7 291.2,427.7 289.0,423.6" fill="#fff" stroke="#1c1c1c" stroke-width="0.75"/>
<polygon points="286.8,431.5 291.2,431.5 289.0,427.4" fill="#fff" stroke="#1c1c1c" stroke-width="0.75"/>
<polygon points="286.8,435.1 291.2,435.1 289.0,431.0" fill="#fff" stroke="#1c1c1c" stroke-width="0.75"/>
<polygon points="286.8,438.6 291.2,438.6 289.0,434.5" fill="#fff" stroke="#1c1c1c" stroke-width="0.75"/>
<polygon points="286.8,442.1 291.2,442.1 289.0,438.0" fill="#fff" stroke="#1c1c1c" stroke-width="0.75"/>
<polygon points="286.8,445.5 291.2,445.5 289.0,441.4" fill="#fff" stroke="#1c1c1c" stroke-width="0.75"/>
<polygon points="286.8,449.0 291.2,449.0 289.0,444.9" fill="#fff" stroke="#1c1c1c" stroke-width="0.75"/>
<polygon points="286.8,452.4 291.2,452.4 289.0,448.3" fill="#fff" stroke="#1c1c1c" stroke-width="0.75"/>
<polygon points="286.8,455.3 291.2,455.3 289.0,451.2" fill="#fff" stroke="#1c1c1c" stroke-width="0.75"/>
<polygon points="286.8,458.2 291.2,458.2 289.0,454.1" fill="#fff" stroke="#1c1c1c" stroke-width="0.75"/>
<polygon points="286.8,462.7 291.2,462.7 289.0,458.6" fill="#fff" stroke="#1c1c1c" stroke-width="0.75"/>
<polygon points="293.4,428.7 297.8,428.7 295.6,424.6" fill="#000" stroke="#000" stroke-width="0.3"/>
<polygon points="293.4,431.2 297.8,431.2 295.6,427.1" fill="#000" stroke="#000" stroke-width="0.3"/>
<polygon points="293.4,434.0 297.8,434.0 295.6,429.9" fill="#000" stroke="#000" stroke-width="0.3"/>
<polygon points="293.4,442.3 297.8,442.3 295.6,438.2" fill="#000" stroke="#000" stroke-width="0.3"/>
<polygon points="293.4,445.5 297.8,445.5 295.6,441.4" fill="#000" stroke="#000" stroke-width="0.3"/>
<polygon points="293.4,449.3 297.8,449.3 295.6,445.2" fill="#000" stroke="#000" stroke-width="0.3"/>
<polygon points="293.4,465.2 297.8,465.2 295.6,461.1" fill="#000" stroke="#000" stroke-width="0.3"/>
<circle cx="319.6" cy="345.8" r="2.15" fill="#fff" stroke="#1c1c1c" stroke-width="0.8"/>
<circle cx="319.6" cy="348.0" r="2.15" fill="#fff" stroke="#1c1c1c" stroke-width="0.8"/>
<circle cx="319.6" cy="350.2" r="2.15" fill="#fff" stroke="#1c1c1c" stroke-width="0.8"/>
<circle cx="319.6" cy="361.7" r="2.15" fill="#fff" stroke="#1c1c1c" stroke-width="0.8"/>
<circle cx="319.6" cy="363.9" r="2.15" fill="#fff" stroke="#1c1c1c" stroke-width="0.8"/>
<circle cx="319.6" cy="375.8" r="2.15" fill="#fff" stroke="#1c1c1c" stroke-width="0.8"/>
<circle cx="319.6" cy="380.1" r="2.15" fill="#fff" stroke="#1c1c1c" stroke-width="0.8"/>
<circle cx="319.6" cy="396.3" r="2.15" fill="#fff" stroke="#1c1c1c" stroke-width="0.8"/>
<circle cx="319.6" cy="398.8" r="2.15" fill="#fff" stroke="#1c1c1c" stroke-width="0.8"/>
<circle cx="319.6" cy="422.5" r="2.15" fill="#fff" stroke="#1c1c1c" stroke-width="0.8"/>
<circle cx="326.1" cy="375.8" r="2.45" fill="#000"/>
<circle cx="326.1" cy="385.1" r="2.45" fill="#000"/>
<circle cx="326.1" cy="398.8" r="2.45" fill="#000"/>
<polygon points="330.4,417.2 334.8,417.2 332.6,413.1" fill="#fff" stroke="#1c1c1c" stroke-width="0.75"/>
<polygon points="330.4,422.0 334.8,422.0 332.6,417.9" fill="#fff" stroke="#1c1c1c" stroke-width="0.75"/>
<polygon points="330.4,429.8 334.8,429.8 332.6,425.7" fill="#fff" stroke="#1c1c1c" stroke-width="0.75"/>
<polygon points="330.4,434.3 334.8,434.3 332.6,430.2" fill="#fff" stroke="#1c1c1c" stroke-width="0.75"/>
<polygon points="330.4,441.4 334.8,441.4 332.6,437.3" fill="#fff" stroke="#1c1c1c" stroke-width="0.75"/>
<polygon points="330.4,443.2 334.8,443.2 332.6,439.1" fill="#fff" stroke="#1c1c1c" stroke-width="0.75"/>
<polygon points="337.0,420.9 341.4,420.9 339.2,416.8" fill="#000" stroke="#000" stroke-width="0.3"/>
<polygon points="337.0,423.2 341.4,423.2 339.2,419.1" fill="#000" stroke="#000" stroke-width="0.3"/>
<polygon points="337.0,425.5 341.4,425.5 339.2,421.4" fill="#000" stroke="#000" stroke-width="0.3"/>
<polygon points="337.0,427.8 341.4,427.8 339.2,423.7" fill="#000" stroke="#000" stroke-width="0.3"/>
<polygon points="337.0,430.1 341.4,430.1 339.2,426.0" fill="#000" stroke="#000" stroke-width="0.3"/>
<polygon points="337.0,432.4 341.4,432.4 339.2,428.3" fill="#000" stroke="#000" stroke-width="0.3"/>
<polygon points="337.0,434.7 341.4,434.7 339.2,430.6" fill="#000" stroke="#000" stroke-width="0.3"/>
<polygon points="337.0,437.0 341.4,437.0 339.2,432.9" fill="#000" stroke="#000" stroke-width="0.3"/>
<polygon points="337.0,439.3 341.4,439.3 339.2,435.2" fill="#000" stroke="#000" stroke-width="0.3"/>
<polygon points="337.0,441.6 341.4,441.6 339.2,437.5" fill="#000" stroke="#000" stroke-width="0.3"/>
<polygon points="337.0,443.9 341.4,443.9 339.2,439.8" fill="#000" stroke="#000" stroke-width="0.3"/>
<polygon points="337.0,446.2 341.4,446.2 339.2,442.1" fill="#000" stroke="#000" stroke-width="0.3"/>
<circle cx="363.2" cy="322.7" r="2.15" fill="#fff" stroke="#1c1c1c" stroke-width="0.8"/>
<circle cx="363.2" cy="327.3" r="2.15" fill="#fff" stroke="#1c1c1c" stroke-width="0.8"/>
<circle cx="363.2" cy="331.8" r="2.15" fill="#fff" stroke="#1c1c1c" stroke-width="0.8"/>
<circle cx="363.2" cy="344.9" r="2.15" fill="#fff" stroke="#1c1c1c" stroke-width="0.8"/>
<circle cx="363.2" cy="354.0" r="2.15" fill="#fff" stroke="#1c1c1c" stroke-width="0.8"/>
<circle cx="363.2" cy="356.7" r="2.15" fill="#fff" stroke="#1c1c1c" stroke-width="0.8"/>
<circle cx="363.2" cy="361.7" r="2.15" fill="#fff" stroke="#1c1c1c" stroke-width="0.8"/>
<circle cx="363.2" cy="366.7" r="2.15" fill="#fff" stroke="#1c1c1c" stroke-width="0.8"/>
<circle cx="363.2" cy="381.9" r="2.15" fill="#fff" stroke="#1c1c1c" stroke-width="0.8"/>
<circle cx="363.2" cy="388.6" r="2.15" fill="#fff" stroke="#1c1c1c" stroke-width="0.8"/>
<circle cx="363.2" cy="396.5" r="2.15" fill="#fff" stroke="#1c1c1c" stroke-width="0.8"/>
<circle cx="363.2" cy="401.4" r="2.15" fill="#fff" stroke="#1c1c1c" stroke-width="0.8"/>
<circle cx="369.7" cy="345.7" r="2.45" fill="#000"/>
<circle cx="369.7" cy="357.4" r="2.45" fill="#000"/>
<circle cx="369.7" cy="372.5" r="2.45" fill="#000"/>
<circle cx="369.7" cy="383.9" r="2.45" fill="#000"/>
<circle cx="369.7" cy="386.6" r="2.45" fill="#000"/>
<polygon points="374.0,366.7 378.4,366.7 376.2,362.6" fill="#fff" stroke="#1c1c1c" stroke-width="0.75"/>
<polygon points="374.0,378.2 378.4,378.2 376.2,374.1" fill="#fff" stroke="#1c1c1c" stroke-width="0.75"/>
<polygon points="374.0,384.0 378.4,384.0 376.2,379.9" fill="#fff" stroke="#1c1c1c" stroke-width="0.75"/>
<polygon points="374.0,386.8 378.4,386.8 376.2,382.7" fill="#fff" stroke="#1c1c1c" stroke-width="0.75"/>
<polygon points="374.0,392.1 378.4,392.1 376.2,388.0" fill="#fff" stroke="#1c1c1c" stroke-width="0.75"/>
<polygon points="374.0,394.7 378.4,394.7 376.2,390.6" fill="#fff" stroke="#1c1c1c" stroke-width="0.75"/>
<polygon points="374.0,400.2 378.4,400.2 376.2,396.1" fill="#fff" stroke="#1c1c1c" stroke-width="0.75"/>
<polygon points="374.0,406.1 378.4,406.1 376.2,402.0" fill="#fff" stroke="#1c1c1c" stroke-width="0.75"/>
<polygon points="374.0,411.9 378.4,411.9 376.2,407.8" fill="#fff" stroke="#1c1c1c" stroke-width="0.75"/>
<polygon points="374.0,416.3 378.4,416.3 376.2,412.2" fill="#fff" stroke="#1c1c1c" stroke-width="0.75"/>
<polygon points="374.0,421.9 378.4,421.9 376.2,417.8" fill="#fff" stroke="#1c1c1c" stroke-width="0.75"/>
<polygon points="374.0,425.1 378.4,425.1 376.2,421.0" fill="#fff" stroke="#1c1c1c" stroke-width="0.75"/>
<polygon points="374.0,426.7 378.4,426.7 376.2,422.6" fill="#fff" stroke="#1c1c1c" stroke-width="0.75"/>
<polygon points="374.0,445.4 378.4,445.4 376.2,441.3" fill="#fff" stroke="#1c1c1c" stroke-width="0.75"/>
<polygon points="380.6,379.9 385.0,379.9 382.8,375.8" fill="#000" stroke="#000" stroke-width="0.3"/>
<polygon points="380.6,386.8 385.0,386.8 382.8,382.7" fill="#000" stroke="#000" stroke-width="0.3"/>
<polygon points="380.6,393.1 385.0,393.1 382.8,389.0" fill="#000" stroke="#000" stroke-width="0.3"/>
<polygon points="380.6,403.6 385.0,403.6 382.8,399.5" fill="#000" stroke="#000" stroke-width="0.3"/>
<polygon points="380.6,412.3 385.0,412.3 382.8,408.2" fill="#000" stroke="#000" stroke-width="0.3"/>
<line x1="43.3" y1="320.3" x2="43.3" y2="505.20000000000005" stroke="#333" stroke-width="1.3"/>
<line x1="42.7" y1="504.6" x2="392" y2="504.6" stroke="#333" stroke-width="1.3"/>
<line x1="40.2" y1="493.3" x2="43.3" y2="493.3" stroke="#333" stroke-width="1"/>
<text transform="translate(34.6 496.5) scale(0.94 1.02)" text-anchor="end" font-size="10">40</text>
<line x1="40.2" y1="470.3" x2="43.3" y2="470.3" stroke="#333" stroke-width="1"/>
<text transform="translate(34.6 473.5) scale(0.94 1.02)" text-anchor="end" font-size="10">60</text>
<line x1="40.2" y1="447.2" x2="43.3" y2="447.2" stroke="#333" stroke-width="1"/>
<text transform="translate(34.6 450.4) scale(0.94 1.02)" text-anchor="end" font-size="10">80</text>
<line x1="40.2" y1="424.2" x2="43.3" y2="424.2" stroke="#333" stroke-width="1"/>
<text transform="translate(34.6 427.4) scale(0.94 1.02)" text-anchor="end" font-size="10">100</text>
<line x1="40.2" y1="401.1" x2="43.3" y2="401.1" stroke="#333" stroke-width="1"/>
<text transform="translate(34.6 404.3) scale(0.94 1.02)" text-anchor="end" font-size="10">120</text>
<line x1="40.2" y1="378.1" x2="43.3" y2="378.1" stroke="#333" stroke-width="1"/>
<text transform="translate(34.6 381.3) scale(0.94 1.02)" text-anchor="end" font-size="10">140</text>
<line x1="40.2" y1="355.1" x2="43.3" y2="355.1" stroke="#333" stroke-width="1"/>
<text transform="translate(34.6 358.3) scale(0.94 1.02)" text-anchor="end" font-size="10">160</text>
<line x1="40.2" y1="332.0" x2="43.3" y2="332.0" stroke="#333" stroke-width="1"/>
<text transform="translate(34.6 335.2) scale(0.94 1.02)" text-anchor="end" font-size="10">180</text>
<line x1="64.6" y1="504.6" x2="64.6" y2="507.8" stroke="#333" stroke-width="1"/>
<text transform="translate(64.6 521.6) scale(0.94 1.02)" text-anchor="middle" font-size="10.1">23</text>
<line x1="108.2" y1="504.6" x2="108.2" y2="507.8" stroke="#333" stroke-width="1"/>
<text transform="translate(108.2 521.6) scale(0.94 1.02)" text-anchor="middle" font-size="10.1">25</text>
<line x1="151.8" y1="504.6" x2="151.8" y2="507.8" stroke="#333" stroke-width="1"/>
<text transform="translate(151.8 521.6) scale(0.94 1.02)" text-anchor="middle" font-size="10.1">27</text>
<line x1="195.3" y1="504.6" x2="195.3" y2="507.8" stroke="#333" stroke-width="1"/>
<text transform="translate(195.3 521.6) scale(0.94 1.02)" text-anchor="middle" font-size="10.1">29</text>
<line x1="238.9" y1="504.6" x2="238.9" y2="507.8" stroke="#333" stroke-width="1"/>
<text transform="translate(238.9 521.6) scale(0.94 1.02)" text-anchor="middle" font-size="10.1">31</text>
<line x1="282.5" y1="504.6" x2="282.5" y2="507.8" stroke="#333" stroke-width="1"/>
<text transform="translate(282.5 521.6) scale(0.94 1.02)" text-anchor="middle" font-size="10.1">33</text>
<line x1="326.1" y1="504.6" x2="326.1" y2="507.8" stroke="#333" stroke-width="1"/>
<text transform="translate(326.1 521.6) scale(0.94 1.02)" text-anchor="middle" font-size="10.1">35</text>
<line x1="369.7" y1="504.6" x2="369.7" y2="507.8" stroke="#333" stroke-width="1"/>
<text transform="translate(369.7 521.6) scale(0.94 1.02)" text-anchor="middle" font-size="10.1">37</text>
<text transform="translate(216.9 540.5) scale(1.015 1.045)" text-anchor="middle" font-size="13.4" stroke-width="0.38">week</text>
<text transform="translate(10.4 412.5) rotate(-90)" text-anchor="middle" font-size="14" stroke-width="0.38">body mass [g]</text>
<text transform="translate(-0.4 43.5) scale(0.99 1.12)" font-size="18.6" font-weight="bold" stroke-width="0.4">a</text>
<text transform="translate(15.2 43) scale(0.965 1.17)" font-size="13.2" stroke-width="0.4">females</text>
<text transform="translate(-0.2 306.9) scale(0.97 1.05)" font-size="18.6" font-weight="bold">b</text>
<text transform="translate(20.6 305.3) scale(0.955 1.17)" font-size="13.4" stroke-width="0.4">males</text>
<rect x="185.2" y="0.6" width="201.4" height="52.8" fill="#fff" stroke="#333" stroke-width="1"/>
<line x1="190" y1="11.2" x2="230.4" y2="11.2" stroke="#1c1c1c" stroke-width="1.3" />
<circle cx="246.0" cy="11.2" r="2.45" fill="#000"/>
<text x="260.8" y="14.0" font-size="8.7">adults supplemental feeding</text>
<line x1="190" y1="21.9" x2="230.4" y2="21.9" stroke="#1c1c1c" stroke-width="1.3" stroke-dasharray="4.7 2.5"/>
<circle cx="246.0" cy="21.9" r="2.15" fill="#fff" stroke="#1c1c1c" stroke-width="0.8"/>
<text x="260.8" y="24.8" font-size="8.7">adults control</text>
<line x1="190" y1="32.7" x2="230.4" y2="32.7" stroke="#1c1c1c" stroke-width="1.3" stroke-dasharray="9.7 3.95"/>
<polygon points="243.8,34.5 248.2,34.5 246.0,30.4" fill="#000" stroke="#000" stroke-width="0.3"/>
<text x="260.8" y="35.5" font-size="8.7">yearlings supplemental feeding</text>
<line x1="190" y1="43.5" x2="230.4" y2="43.5" stroke="#1c1c1c" stroke-width="1.65" stroke-dasharray="1.55 1.5"/>
<polygon points="243.8,45.2 248.2,45.2 246.0,41.1" fill="#fff" stroke="#1c1c1c" stroke-width="0.75"/>
<text x="260.8" y="46.2" font-size="8.7">yearlings control</text>
</svg>
</body></html>
